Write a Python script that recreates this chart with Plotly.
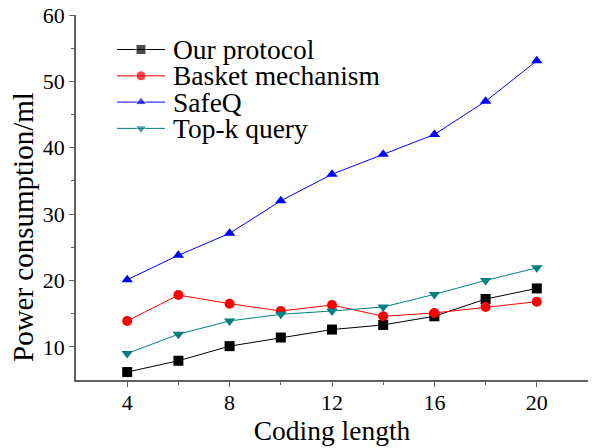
import plotly.graph_objects as go

coding_length = [4, 6, 8, 10, 12, 14, 16, 18, 20]
our_protocol = [6.2, 7.9, 10.1, 11.4, 12.6, 13.3, 14.6, 17.2, 18.8]
basket = [13.9, 17.8, 16.5, 15.4, 16.3, 14.6, 15.1, 16.0, 16.8]
safeq = [20.1, 23.8, 27.1, 32.0, 36.0, 39.0, 42.0, 47.0, 53.1]
topk = [9.0, 11.9, 13.9, 14.9, 15.4, 16.0, 17.9, 20.0, 21.9]

series_names = ["Our protocol", "Basket mechanism", "SafeQ", "Top-k query"]
series_values = [our_protocol, basket, safeq, topk]
series_colors = ["black", "red", "blue", "#008080"]
series_symbols = ["square", "circle", "triangle-up", "triangle-down"]

font = "Liberation Serif, Times New Roman, serif"

fig = go.Figure()
for name, vals, color, sym in zip(series_names, series_values, series_colors, series_symbols):
    fig.add_trace(go.Scatter(
        x=coding_length, y=vals, name=name, mode="lines+markers",
        line=dict(color=color, width=1),
        marker=dict(symbol=sym, size=10, color=color),
        showlegend=False,
    ))

# custom legend (paper-like overlay axes) for tight Times-style spacing
plot_l, plot_r, plot_t, plot_b = 76, 588, 15, 380
def px_x(p):
    return (p - plot_l) / (plot_r - plot_l)
def px_y(p):
    return (plot_b - p) / (plot_b - plot_t)

row_y = [49.5, 75.8, 102.1, 128.4]
for i, (name, color, sym) in enumerate(zip(series_names, series_colors, series_symbols)):
    yy = px_y(row_y[i])
    fig.add_trace(go.Scatter(
        x=[px_x(117), px_x(141), px_x(165)], y=[yy, yy, yy],
        mode="lines+markers", xaxis="x2", yaxis="y2", showlegend=False,
        line=dict(color=color, width=1),
        marker=dict(symbol=sym, size=[0, 10, 0], color=color),
        hoverinfo="skip",
    ))
    fig.add_annotation(x=px_x(172), y=yy, xref="paper", yref="paper",
                       text=name, showarrow=False, xanchor="left", yanchor="middle",
                       borderpad=0,
                       font=dict(family=font, size=27.5, color="black"))

# y-axis title (placed like the reference, slightly below centre)
fig.add_annotation(x=px_x(23), y=px_y(227), xref="paper", yref="paper",
                   text="Power consumption/ml", textangle=-90, showarrow=False,
                   xanchor="center", yanchor="middle", borderpad=0,
                   font=dict(family=font, size=29, color="black"))

axis_common = dict(
    showline=True, linecolor="#606060", linewidth=1.5,
    ticks="outside", ticklen=5, tickcolor="#606060",
    showgrid=False, zeroline=False, automargin=False,
    tickfont=dict(family=font, size=22, color="black"),
)
fig.update_layout(
    xaxis=dict(range=[2, 22], tickvals=[4, 8, 12, 16, 20],
               minor=dict(tickvals=[6, 10, 14, 18], ticks="outside", ticklen=3, tickcolor="#606060"),
               ticklabelstandoff=-3,
               title=dict(text="Coding length", font=dict(family=font, size=27.5, color="black"), standoff=1),
               **axis_common),
    yaxis=dict(range=[5, 60], tickvals=[10, 20, 30, 40, 50, 60],
               minor=dict(tickvals=[15, 25, 35, 45, 55], ticks="outside", ticklen=3, tickcolor="#606060"),
               **axis_common),
    xaxis2=dict(overlaying="x", range=[0, 1], visible=False),
    yaxis2=dict(overlaying="y", range=[0, 1], visible=False),
    width=598, height=448,
    margin=dict(l=plot_l, r=598 - plot_r, t=plot_t, b=448 - plot_b),
    plot_bgcolor="white", paper_bgcolor="white",
    showlegend=False,
)
fig.write_html("out.html")
